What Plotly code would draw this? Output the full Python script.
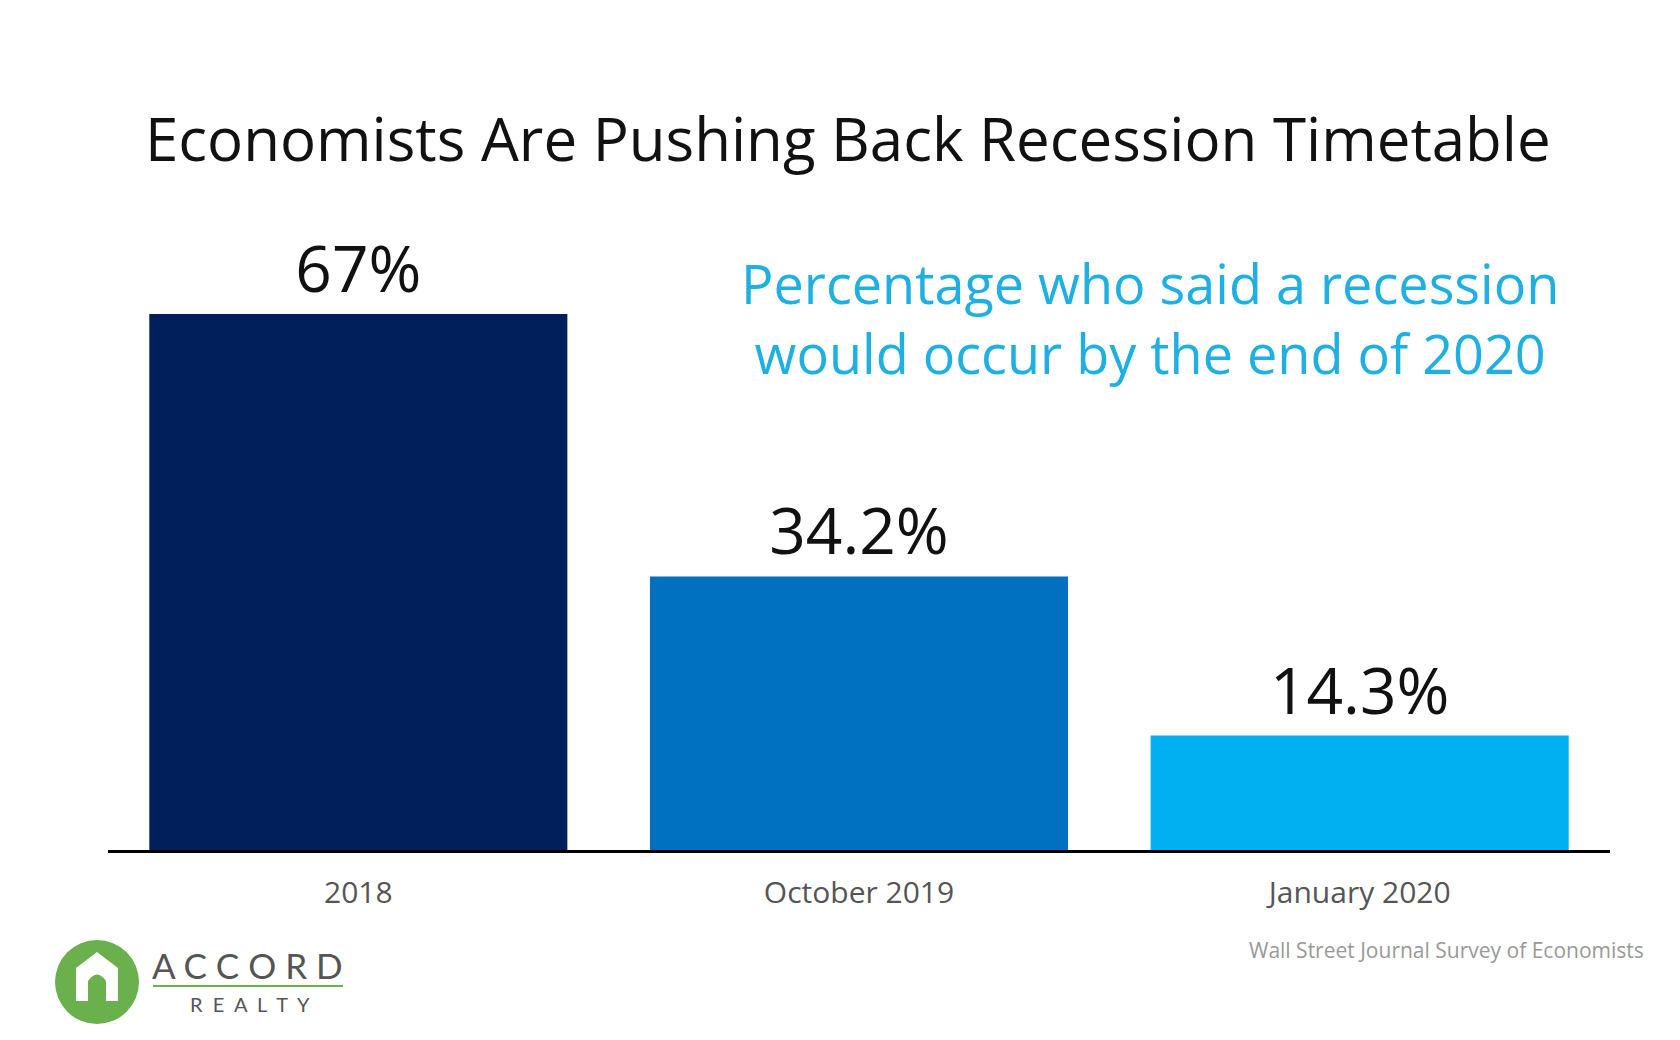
import plotly.graph_objects as go

# data
categories = ["2018", "October 2019", "January 2020"]
values = [67, 34.2, 14.3]
labels = ["67%", "34.2%", "14.3%"]
colors = ["#001f5b", "#0070c0", "#00b0f0"]

W, H = 1680, 1040
L, R, T, B = 100, 78, 202, 198
pw, ph = W - L - R, H - T - B


def px(x):
    return (x - L) / pw


def py(y):
    return (H - B - y) / ph


def note(text, x, y, size, color, xanchor="center", family="Open Sans"):
    fig.add_annotation(text=text, xref="paper", yref="paper", x=px(x), y=py(y),
                       xanchor=xanchor, yanchor="middle", showarrow=False,
                       align="center", font=dict(size=size, color=color, family=family))


fig = go.Figure(go.Bar(
    x=categories, y=values, text=labels, textposition="outside",
    marker=dict(color=colors, line=dict(width=0)),
    textfont=dict(size=64, color="#111111", family="Open Sans"),
    cliponaxis=False, showlegend=False,
))

fig.update_layout(
    width=W, height=H, margin=dict(l=L, r=R, t=T, b=B),
    plot_bgcolor="white", paper_bgcolor="white", bargap=0.165,
    font=dict(family="Open Sans"),
    xaxis=dict(showline=True, linecolor="black", linewidth=3, ticks="",
               ticklabelstandoff=14,
               tickfont=dict(size=30, color="#555555")),
    yaxis=dict(range=[0, 80], visible=False, showgrid=False),
)

# title, subtitle, source
note("Economists Are Pushing Back Recession Timetable", 840, 130, 60, "#111111")
note("Percentage who said a recession<br>would occur by the end of 2020",
     1142, 310, 54, "#1fb0e3")
note("Wall Street Journal Survey of Economists", 1638, 942, 21, "#999999", xanchor="right")

# logo
dx, dy = -8, -12
fig.add_shape(type="circle", xref="paper", yref="paper",
              x0=px(55 + dx), x1=px(139 + dx), y0=py(1028 + dy), y1=py(944 + dy),
              fillcolor="#6ab04c", line=dict(width=0))
pts = [(76, 1005), (76, 972), (97, 956), (118, 972), (118, 1005), (106, 1005), (106, 985)]
house = "M " + " L ".join(f"{px(x + dx)},{py(y + dy)}" for x, y in pts)
house += (f" Q {px(97 + dx)},{py(972 + dy)} {px(88 + dx)},{py(985 + dy)}"
          f" L {px(88 + dx)},{py(1005 + dy)} Z")
fig.add_shape(type="path", xref="paper", yref="paper", path=house,
              fillcolor="white", line=dict(width=0))
note("A C C O R D", 150 + dx, 969 + dy, 35, "#555555", xanchor="left", family="Lato")
fig.add_shape(type="line", xref="paper", yref="paper",
              x0=px(153 + dx), x1=px(343 + dx), y0=py(990 + dy), y1=py(990 + dy),
              line=dict(color="#6ab04c", width=2))
note("R  E  A  L  T  Y", 250 + dx, 1008 + dy, 20, "#555555", family="Lato")

fig.write_html("out.html")
